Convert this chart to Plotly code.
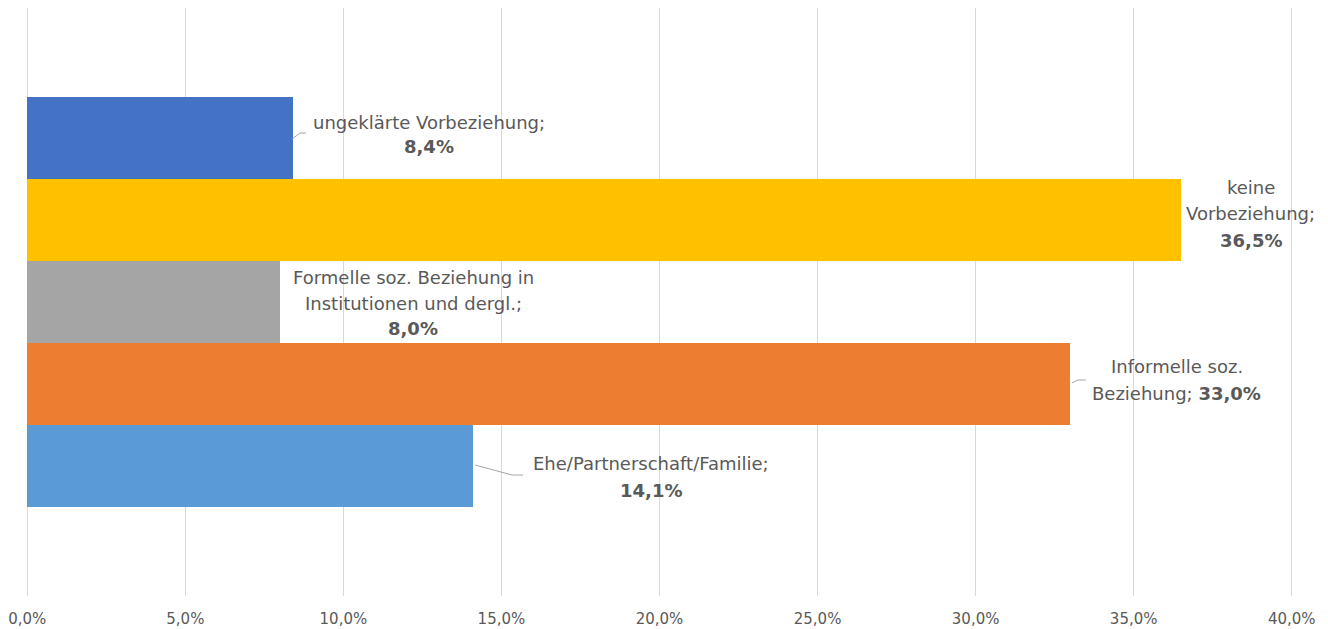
import plotly.graph_objects as go

# ---- data ----
categories = [
    "Ehe/Partnerschaft/Familie",
    "Informelle soz. Beziehung",
    "Formelle soz. Beziehung in Institutionen und dergl.",
    "keine Vorbeziehung",
    "ungeklärte Vorbeziehung",
]
values = [14.1, 33.0, 8.0, 36.5, 8.4]
colors = ["#5B9BD5", "#ED7D31", "#A5A5A5", "#FFC000", "#4472C4"]
label_lines = [
    ["Ehe/Partnerschaft/Familie;", "<b>14,1%</b>"],
    ["Informelle soz.", "Beziehung; <b>33,0%</b>"],
    ["Formelle soz. Beziehung in", "Institutionen und dergl.;", "<b>8,0%</b>"],
    ["keine", "Vorbeziehung;", "<b>36,5%</b>"],
    ["ungeklärte Vorbeziehung;", "<b>8,4%</b>"],
]
x_ticks = [0, 5, 10, 15, 20, 25, 30, 35, 40]
x_ticktext = ["0,0%", "5,0%", "10,0%", "15,0%", "20,0%", "25,0%", "30,0%", "35,0%", "40,0%"]

# ---- layout helpers (window pixel placement) ----
W, H = 1328, 629
OFF = 8  # page body offset
EPS = 0.04  # small range padding so edge gridlines are drawn
X0, X1 = 27, 1292  # window pixels of 0% and 40%
px_per_pct = (X1 - X0) / 40.0
PL = X0 - EPS * px_per_pct
PR = X1 + EPS * px_per_pct
PT, PB = 7, 596
px_per_cat = 82.0
y0_px = 466.0  # window pixel centre of category index 0


def xd(px):
    return (px - X0) / px_per_pct


def yd(py):
    return (y0_px - py) / px_per_cat


label_centers_x = [651, 1177, 413, 1251, 429]
label_lines_y = [[463, 490], [366, 393], [277, 303, 328], [187, 213, 240], [122, 146]]
leaders = [
    [(475, 465), (512, 475), (523, 475)],
    [(1072, 383), (1078, 380), (1086, 380)],
    None,
    None,
    [(292, 139), (300, 133), (306, 133)],
]

FONT = "DejaVu Sans, Verdana, sans-serif"

fig = go.Figure()
fig.add_trace(go.Bar(
    y=categories, x=values, orientation="h",
    marker=dict(color=colors, line=dict(width=0)),
    hoverinfo="skip",
))

annotations = []
for i, lines in enumerate(label_lines):
    for txt, py in zip(lines, label_lines_y[i]):
        annotations.append(dict(
            x=xd(label_centers_x[i]), y=yd(py), xref="x", yref="y",
            text=txt, showarrow=False, xanchor="center", yanchor="middle",
            font=dict(family=FONT, size=18, color="#595959"),
        ))

shapes = []
for ld in leaders:
    if ld is None:
        continue
    path = "M " + " L ".join(f"{xd(px)},{yd(py)}" for px, py in ld)
    shapes.append(dict(type="path", path=path, xref="x", yref="y",
                       line=dict(color="#A6A6A6", width=1)))

fig.update_layout(
    width=W, height=H,
    margin=dict(l=PL - OFF, r=W - (PR - OFF), t=max(PT - OFF, 0), b=H - (PB - OFF)),
    paper_bgcolor="white", plot_bgcolor="white",
    showlegend=False,
    bargap=0,
    annotations=annotations,
    shapes=shapes,
    xaxis=dict(
        range=[-EPS, 40 + EPS], tickvals=x_ticks, ticktext=x_ticktext,
        showgrid=True, gridcolor="#D9D9D9", gridwidth=1,
        zeroline=False, showline=False, ticks="",
        tickfont=dict(family=FONT, size=15, color="#595959"),
        ticklabelstandoff=12, ticklabeloverflow="allow",
    ),
    yaxis=dict(
        type="category", categoryorder="array", categoryarray=categories,
        range=[yd(PB), yd(max(PT, OFF))], showticklabels=False, showgrid=False,
        zeroline=False, showline=False, ticks="",
    ),
)

fig.write_html("out.html")
